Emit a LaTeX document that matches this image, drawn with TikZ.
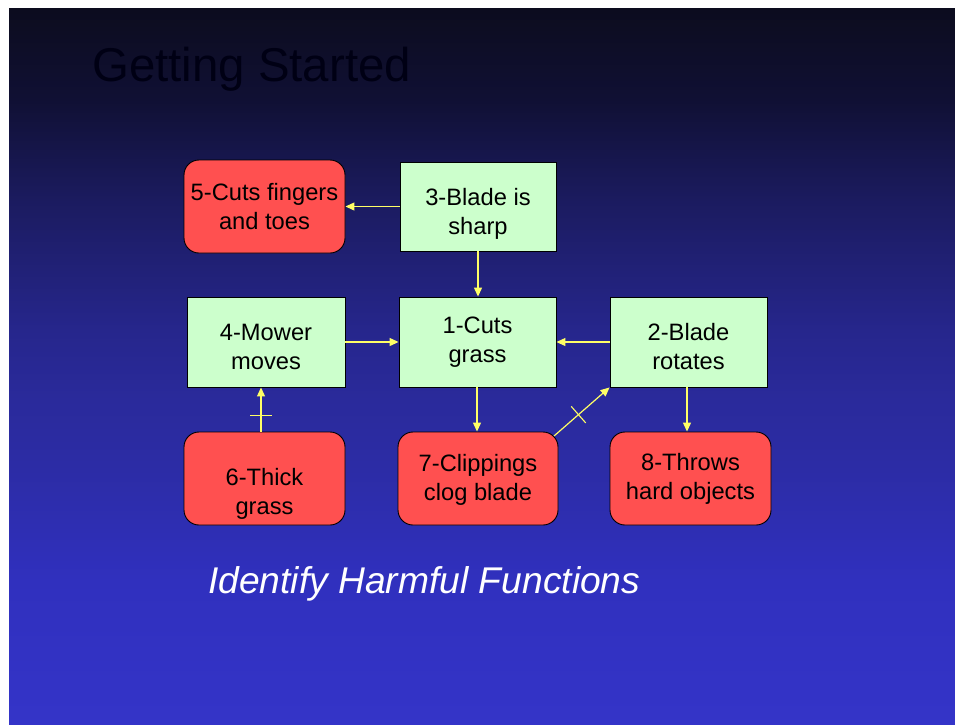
\documentclass[tikz,border=0pt]{standalone}
\usepackage{fontspec}
\setmainfont{Liberation Sans}
\usetikzlibrary{arrows.meta,calc,decorations.markings}

% Slide background: dark navy at the top, bright blue at the bottom
\pgfdeclareverticalshading{slidebg}{100bp}{%
  rgb(0bp)=(0.204,0.204,0.784);
  rgb(25bp)=(0.204,0.204,0.784);
  rgb(35bp)=(0.188,0.188,0.745);
  rgb(42.7bp)=(0.173,0.173,0.651);
  rgb(47.6bp)=(0.165,0.165,0.608);
  rgb(52.5bp)=(0.149,0.149,0.549);
  rgb(61.6bp)=(0.106,0.106,0.373);
  rgb(68.6bp)=(0.063,0.063,0.204);
  rgb(75bp)=(0.047,0.047,0.118);
  rgb(100bp)=(0.047,0.047,0.118)}

\definecolor{goodfill}{HTML}{CCFFCC}
\definecolor{badfill}{HTML}{FF5050}
\definecolor{linkcol}{HTML}{FFFF66}

\tikzset{
  boxtext/.style={font=\fontsize{23.7}{29}\selectfont, align=center, inner sep=0pt},
  % vertical placement of the two text lines inside a box
  txt/.style 2 args={text height=#1, text depth=#2},
  goodbox/.style={boxtext, draw=black, line width=0.9pt, fill=goodfill,
    minimum width=157pt, minimum height=90pt},
  badbox/.style={boxtext, draw=black, line width=0.9pt, fill=badfill,
    rounded corners=15pt, minimum width=161pt, minimum height=93pt},
  link/.style={draw=linkcol, line width=1.2pt,
    -{Triangle[length=9pt,width=8pt]}},
  blocked/.style={postaction={decorate}, decoration={markings,
    mark=at position #1 with {\draw[-, linkcol, line width=1.1pt] (0,-11pt) -- (0,11pt);}}}
}

\begin{document}
\begin{tikzpicture}[x=1pt, y=1pt]
  % page and slide area
  \fill[white] (0,0) rectangle (955,-724);
  \useasboundingbox (0,0) rectangle (955,-724);
  \shade[shading=slidebg] (9,-8) rectangle (955,-724);

  % titles
  \node[anchor=base west, inner sep=0pt, text=black!92!blue,
        font=\fontsize{47.4}{56}\selectfont] (title) at (92,-81) {Getting Started};
  \node[anchor=base west, inner sep=0pt, text=white,
        font=\fontsize{37.2}{44}\selectfont\itshape] (subtitle) at (208,-593)
        {Identify Harmful Functions};

  % useful functions
  \node[goodbox, minimum height=89pt, minimum width=156pt, txt={60pt}{4pt}]
       (n3) at (478,-206.5) {3-Blade is\\sharp};
  \node[goodbox, minimum width=158pt, txt={58pt}{4pt}] (n4) at (266,-342) {4-Mower\\moves};
  \node[goodbox, txt={45pt}{5pt}] (n1) at (477.5,-342) {1-Cuts\\grass};
  \node[goodbox, txt={58pt}{4pt}] (n2) at (688.5,-342) {2-Blade\\rotates};

  % harmful functions
  \node[badbox, txt={50pt}{5pt}] (n5) at (264.5,-206.5) {5-Cuts fingers\\and toes};
  \node[badbox, txt={75pt}{4pt}] (n6) at (264.5,-478.5) {6-Thick\\grass};
  \node[badbox, minimum width=160pt, txt={48pt}{5pt}] (n7) at (478,-478.5) {7-Clippings\\clog blade};
  \node[badbox, txt={46pt}{5pt}] (n8) at (690.5,-478.5) {8-Throws\\hard objects};

  % connectors
  \coordinate (n7corner) at ($(n7.north east)+(-4.4,-4.4)$);
  \draw[link] (n3.west) -- (n5.east);
  \draw[link] (n3.south) -- (n3.south |- n1.north);
  \draw[link] (n4.east) -- (n1.west);
  \draw[link] (n2.west) -- (n1.east);
  \draw[link, blocked=0.36] ([xshift=-3.5pt]n6.north) -- ([xshift=-3.5pt]n6.north |- n4.south);
  \draw[link] ([xshift=-0.5pt]n1.south) -- ([xshift=-0.5pt]n1.south |- n7.north);
  \draw[link, blocked=0.44] (n7corner) -- (n2.south west);
  \draw[link] ([xshift=-1.5pt]n2.south) -- ([xshift=-1.5pt]n2.south |- n8.north);
\end{tikzpicture}
\end{document}
